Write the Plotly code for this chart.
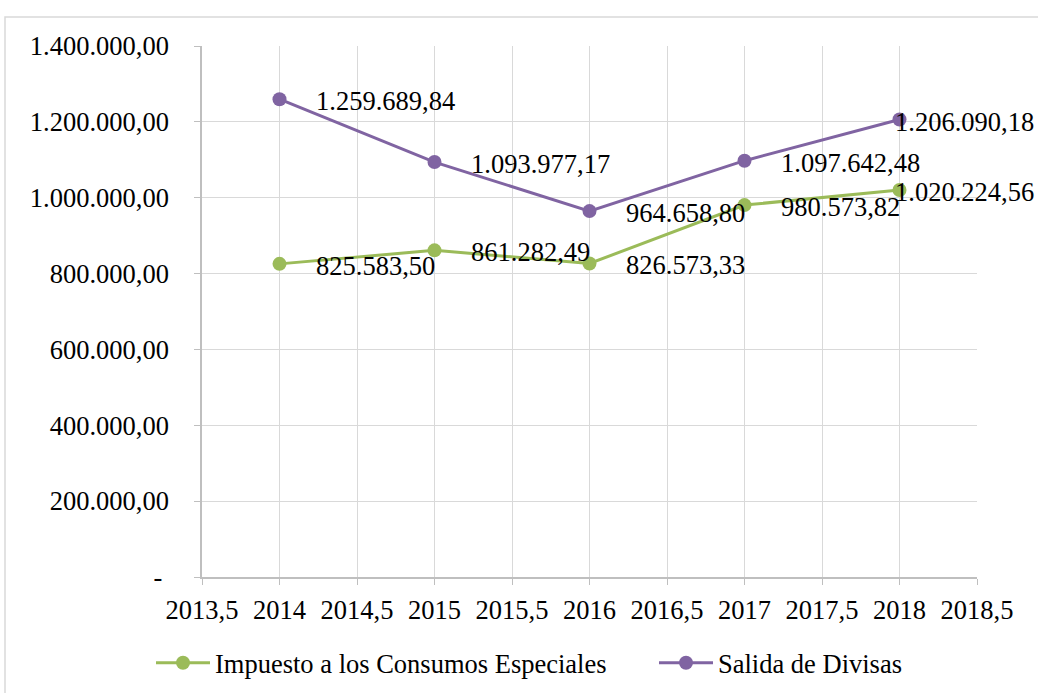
import plotly.graph_objects as go

years = [2014, 2015, 2016, 2017, 2018]
ice = [825583.50, 861282.49, 826573.33, 980573.82, 1020224.56]
isd = [1259689.84, 1093977.17, 964658.80, 1097642.48, 1206090.18]
series_names = ["Impuesto a los Consumos Especiales", "Salida de Divisas"]
x_tickvals = [2013.5, 2014, 2014.5, 2015, 2015.5, 2016, 2016.5, 2017, 2017.5, 2018, 2018.5]
x_ticktext = ["2013,5", "2014", "2014,5", "2015", "2015,5", "2016", "2016,5", "2017", "2017,5", "2018", "2018,5"]
y_tickvals = [0, 200000, 400000, 600000, 800000, 1000000, 1200000, 1400000]
y_ticktext = ["-\u00a0", "200.000,00", "400.000,00", "600.000,00", "800.000,00",
              "1.000.000,00", "1.200.000,00", "1.400.000,00"]

GREEN = "#9BBB59"
PURPLE = "#8064A2"
FONT = "Liberation Serif"
FS = 26.5


def fmt(v):
    s = f"{v:,.2f}"
    return s.replace(",", "X").replace(".", ",").replace("X", ".")


W, H = 1038, 693
L, R, T, B = 202, 977, 46, 577
pw, ph = R - L, B - T

fig = go.Figure()
for name, vals, col, lg in [(series_names[0], ice, GREEN, "legend"),
                            (series_names[1], isd, PURPLE, "legend2")]:
    fig.add_trace(go.Scatter(
        x=years, y=vals, name=name, mode="lines+markers",
        line=dict(color=col, width=3),
        marker=dict(color=col, size=14),
        legend=lg,
    ))

annotations = []
for vals in (ice, isd):
    for i, (x, v) in enumerate(zip(years, vals)):
        last = i == len(years) - 1
        annotations.append(dict(
            x=x, y=v, xref="x", yref="y", text=fmt(v), showarrow=False,
            xanchor="left", yanchor="middle",
            xshift=-7 if last else 34, yshift=-2,
            font=dict(family=FONT, size=FS, color="black"),
        ))

shapes = [dict(
    type="rect", xref="paper", yref="paper",
    x0=(5 - L) / pw, x1=(1100 - L) / pw,
    y0=(B - 760) / ph, y1=(B - 17) / ph,
    line=dict(color="#d9d9d9", width=1.5), fillcolor="rgba(0,0,0,0)", layer="below",
)]

legend_common = dict(orientation="h", xanchor="left", yanchor="middle",
                     xref="container", yref="container",
                     y=1 - 663 / H,
                     font=dict(family=FONT, size=FS, color="black"),
                     itemwidth=54, bgcolor="rgba(0,0,0,0)")

fig.update_layout(
    width=W, height=H,
    margin=dict(l=L, r=W - R, t=T, b=H - B, pad=0, autoexpand=False),
    paper_bgcolor="white", plot_bgcolor="white",
    font=dict(family=FONT, size=FS, color="black"),
    showlegend=True,
    legend=dict(x=151 / W, **legend_common),
    legend2=dict(x=654 / W, **legend_common),
    annotations=annotations,
    shapes=shapes,
)
fig.update_xaxes(
    range=[2013.5, 2018.5], tickvals=x_tickvals, ticktext=x_ticktext,
    showgrid=True, gridcolor="#d9d9d9", gridwidth=1,
    showline=True, linecolor="#bfbfbf", linewidth=1.5,
    ticks="outside", ticklen=6, tickcolor="#bfbfbf", ticklabelstandoff=2,
    zeroline=False, tickfont=dict(family=FONT, size=FS, color="black"),
)
fig.update_yaxes(
    range=[0, 1400000], tickvals=y_tickvals, ticktext=y_ticktext,
    showgrid=True, gridcolor="#d9d9d9", gridwidth=1,
    showline=True, linecolor="#bfbfbf", linewidth=1.5,
    ticks="outside", ticklen=6, tickcolor="#bfbfbf", ticklabelstandoff=20,
    zeroline=False, tickfont=dict(family=FONT, size=FS, color="black"),
)

fig.write_html("out.html", config={"displayModeBar": False},
               post_script="document.body.style.margin='0';")
